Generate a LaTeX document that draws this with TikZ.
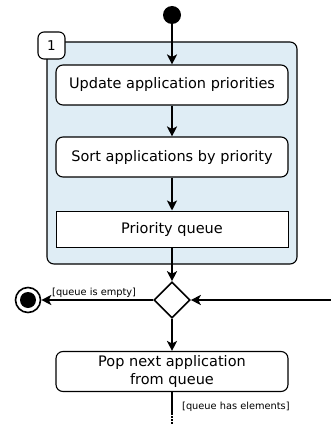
\documentclass[tikz,border=0pt]{standalone}
\usepackage{fontspec}
\setmainfont{DejaVu Sans}
\usetikzlibrary{arrows.meta,shapes.geometric}
\definecolor{framefill}{HTML}{DFEDF5}
\tikzset{
  flow/.style={line width=1.8pt,-{Stealth[length=10pt,width=10pt,inset=2.5pt]}},
  action/.style={draw,line width=1.1pt,fill=white,rounded corners=7pt,
    minimum width=232pt,minimum height=40pt,align=center,font=\fontsize{14.5}{17}\selectfont},
  store/.style={draw,line width=1pt,fill=white,
    minimum width=232pt,minimum height=36pt,font=\fontsize{14.5}{17}\selectfont},
  guard/.style={font=\fontsize{9.8}{11}\selectfont,inner sep=1pt},
}
\begin{document}
\begin{tikzpicture}[x=1pt,y=-1pt]
\useasboundingbox (0,0) rectangle (331,425);
% interruptible region with its tab
\draw[line width=1.1pt,fill=framefill,rounded corners=7pt] (47,42) rectangle (297,264);
\node[draw,line width=1.1pt,fill=white,rounded corners=6pt,minimum width=27pt,minimum height=27pt,
  inner sep=0pt,font=\fontsize{13.5}{16}\selectfont] (tab) at (51.5,45.5) {1};
% start node
\node[circle,fill=black,minimum size=18pt,inner sep=0pt] (start) at (172,15) {};
% actions
\node[action] (upd) at (172,85) {Update application priorities};
\node[action] (sort) at (172,157) {Sort applications by priority};
\node[store] (pq) at (172,229) {Priority queue};
% decision
\node[diamond,draw,line width=1.6pt,fill=white,minimum width=36pt,minimum height=36pt,inner sep=0pt] (dec) at (172,300) {};
% final node
\node[circle,draw,line width=1.6pt,fill=white,minimum size=25pt,inner sep=0pt] (fin) at (28,300) {};
\node[circle,fill=black,minimum size=16pt,inner sep=0pt] at (fin) {};
\coordinate (loopin) at (331,300);
\node[action,font=\fontsize{14.5}{18}\selectfont] (pop) at (172,371.5) {Pop next application\\from queue};
\coordinate (more) at (172,413);
\coordinate (moreend) at (172,425);
% flows
\draw[flow] (start) -- (upd);
\draw[flow] (upd) -- (sort);
\draw[flow] (sort) -- (pq);
\draw[flow] (pq) -- (dec);
\draw[flow] (dec) -- (fin);
\draw[flow] (loopin) -- (dec);
\draw[flow] (dec) -- (pop);
\draw[line width=1.8pt] (pop) -- (more);
\draw[line width=1.8pt,dash pattern=on 1.5pt off 1.5pt] (more) -- (moreend);
% guards
\node[guard,anchor=south west] at (51,299) {[queue is empty]};
\node[guard,anchor=west] at (181,407) {[queue has elements]};
\end{tikzpicture}
\end{document}
